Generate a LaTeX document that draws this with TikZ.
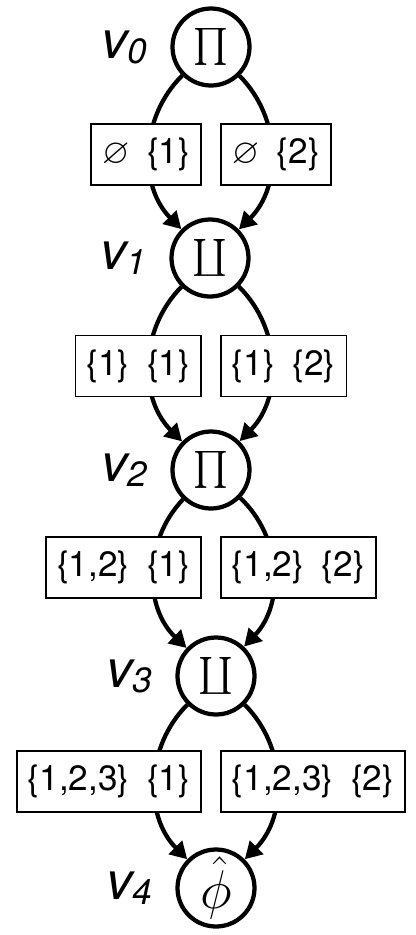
\RequirePackage{fix-cm}
\documentclass[tikz,border=0pt]{standalone}
\usepackage{amsmath,amssymb}
\usepackage{fontspec}
\setsansfont{TeX Gyre Heros}
\usetikzlibrary{arrows.meta,positioning}
\newcommand{\vname}[1]{v\raisebox{-0.1cm}{\fontsize{20}{20}\selectfont #1}}
\newcommand{\pairgap}{\hspace{0.5em}}

\begin{document}
\begin{tikzpicture}[
    op/.style={circle,draw,line width=0.085cm,minimum size=1.54cm,inner sep=0pt},
    vlab/.style={font=\sffamily\itshape\fontsize{30}{30}\selectfont,inner sep=0pt},
    tag/.style={draw,fill=white,line width=0.035cm,minimum height=1.22cm,
      inner xsep=0.22cm,font=\sffamily\fontsize{20}{24}\selectfont},
    flow/.style={line width=0.085cm,-{Triangle[length=0.34cm,width=0.37cm]}}]
  \useasboundingbox (0,0) rectangle (8.3,-18.7);
  \node[op,font=\fontsize{21}{21}\selectfont] (v0) at (4.22,-0.94) {$\prod$};
  \node[op,font=\fontsize{21}{21}\selectfont] (v1) at (4.20,-5.16) {$\coprod$};
  \node[op,font=\fontsize{21}{21}\selectfont] (v2) at (4.22,-9.40) {$\prod$};
  \node[op,font=\fontsize{21}{21}\selectfont] (v3) at (4.32,-13.52) {$\coprod$};
  \node[op,font=\fontsize{31}{31}\selectfont] (v4) at (4.32,-17.76) {$\hat{\phi}$};
  \node[vlab,left=0.46cm of v0] (n0) {\vname{0}};
  \node[vlab,left=0.46cm of v1] (n1) {\vname{1}};
  \node[vlab,left=0.46cm of v2] (n2) {\vname{2}};
  \node[vlab,left=0.46cm of v3] (n3) {\vname{3}};
  \node[vlab,left=0.46cm of v4] (n4) {\vname{4}};
  \draw[flow] (v0) to[bend right=45] (v1);
  \draw[flow] (v0) to[bend left=45] (v1);
  \draw[flow] (v1) to[bend right=45] (v2);
  \draw[flow] (v1) to[bend left=45] (v2);
  \draw[flow] (v2) to[bend right=45] (v3);
  \draw[flow] (v2) to[bend left=45] (v3);
  \draw[flow] (v3) to[bend right=45] (v4);
  \draw[flow] (v3) to[bend left=45] (v4);
  \node[tag,anchor=east] (s0l) at (4.04,-3.09) {$\varnothing$\pairgap\{1\}};
  \node[tag,anchor=west] (s0r) at (4.40,-3.09) {$\varnothing$\pairgap\{2\}};
  \node[tag,anchor=east] (s1l) at (4.04,-7.32) {\{1\}\pairgap\{1\}};
  \node[tag,anchor=west] (s1r) at (4.40,-7.32) {\{1\}\pairgap\{2\}};
  \node[tag,anchor=east] (s2l) at (4.04,-11.35) {\{1,2\}\pairgap\{1\}};
  \node[tag,anchor=west] (s2r) at (4.40,-11.35) {\{1,2\}\pairgap\{2\}};
  \node[tag,anchor=east] (s3l) at (4.04,-15.63) {\{1,2,3\}\pairgap\{1\}};
  \node[tag,anchor=west] (s3r) at (4.40,-15.63) {\{1,2,3\}\pairgap\{2\}};
\end{tikzpicture}
\end{document}
